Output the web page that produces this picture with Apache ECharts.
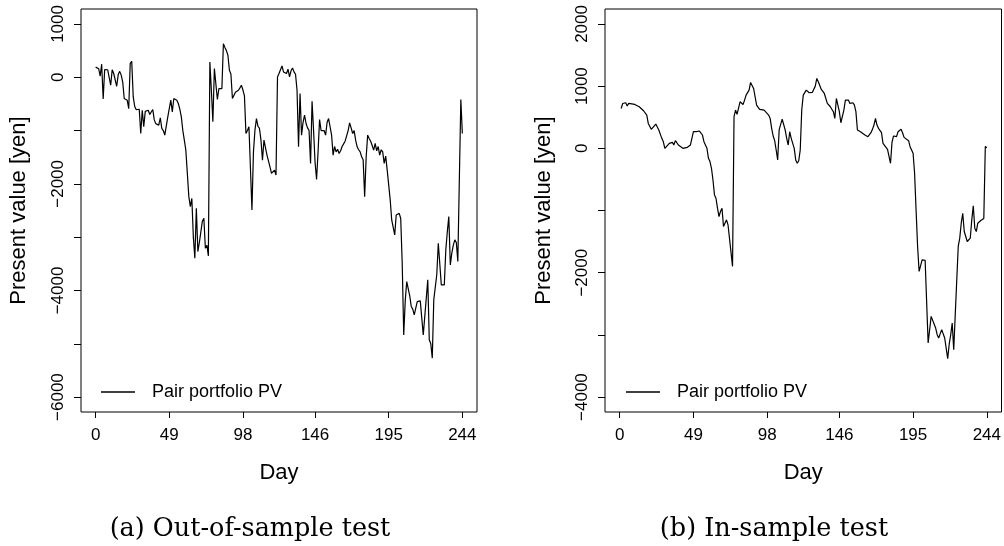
<!DOCTYPE html>
<html>
<head>
<meta charset="utf-8">
<script src="https://cdn.jsdelivr.net/npm/echarts@6/dist/echarts.min.js"></script>
<style>
  html, body { margin: 0; padding: 0; background: #fff; }
  #chart { width: 1004px; height: 546px; }
</style>
</head>
<body>
<div id="chart"></div>
<script>
// (a) out-of-sample test: day / present value
var daysA = [0, 1, 2, 3, 4, 5, 6, 7, 8, 9, 10, 11, 12, 13, 14, 15, 16, 17, 18, 19,
    20, 21, 22, 23, 24, 25, 26, 27, 28, 29, 30, 31, 32, 33, 34, 35, 36, 37, 38, 39,
    40, 41, 42, 43, 44, 45, 46, 47, 48, 49, 50, 51, 52, 53, 54, 55, 56, 57, 58, 59,
    60, 61, 62, 63, 64, 65, 66, 67, 68, 69, 70, 71, 72, 73, 74, 75, 76, 77, 78, 79,
    80, 81, 82, 83, 84, 85, 86, 87, 88, 89, 90, 91, 92, 93, 94, 95, 96, 97, 98, 99,
    100, 101, 102, 103, 104, 105, 106, 107, 108, 109, 110, 111, 112, 113, 114, 115, 116, 117, 118, 119,
    120, 121, 122, 123, 124, 125, 126, 127, 128, 129, 130, 131, 132, 133, 134, 135, 136, 137, 138, 139,
    140, 141, 142, 143, 144, 145, 146, 147, 148, 149, 150, 151, 152, 153, 154, 155, 156, 157, 158, 159,
    160, 161, 162, 163, 164, 165, 166, 167, 168, 169, 170, 171, 172, 173, 174, 175, 176, 177, 178, 179,
    180, 181, 182, 183, 184, 185, 186, 187, 188, 189, 190, 191, 192, 193, 194, 195, 196, 197, 198, 199,
    200, 201, 202, 203, 204, 205, 206, 207, 208, 209, 210, 211, 212, 213, 214, 215, 216, 217, 218, 219,
    220, 221, 222, 223, 224, 225, 226, 227, 228, 229, 230, 231, 232, 233, 234, 235, 236, 237, 238, 239,
    240, 241, 242, 243, 244];
var pvA = [190, 175, 160, 20, 245, -410, 145, 140, 140, 145, -150, 140, 70, 40, -170, 50, 110, 40, -90, -400,
    -420, -430, -590, 260, 300, -370, -550, -610, -630, -600, -1055, -620, -930, -640, -650, -620, -700, -712, -605, -800,
    -870, -855, -900, -760, -960, -1000, -1086, -1080, -743, -711, -430, -650, -400, -380, -430, -493, -600, -743, -1000, -1180,
    -1367, -1400, -2240, -2428, -2273, -3000, -3396, -2460, -3271, -3100, -2900, -2700, -2647, -3209, -3150, -3352, 287, -250, -836, 162,
    140, -418, -212, -212, -212, 630, 560, 500, 412, 131, 60, -400, -380, -280, -250, -245, -200, -150, -240, -350,
    -1055, -1000, -930, -900, -2491, -1400, -993, -774, -920, -961, -1180, -1555, -1180, -1180, -1460, -1430, -1680, -1804, -1830, -1742,
    -1836, 6, 69, 100, 212, 100, 70, 69, 150, 6, 120, 175, 100, 56, -243, -1305, -306, -1086, -850, -712,
    -868, -950, -1000, -1617, -450, -1000, -1600, -1917, -1400, -793, -1000, -990, -1000, -1086, -850, -774, -750, -1086, -1461, -1300,
    -1400, -1350, -1430, -1380, -1300, -1250, -1200, -1180, -1000, -855, -950, -1055, -1000, -1180, -1305, -1360, -1400, -1492, -1550, -2241,
    -1500, -1086, -1150, -1200, -1280, -1367, -1240, -1380, -1300, -1460, -1360, -1400, -1617, -1480, -1742, -1740, -2300, -2678, -2700, -2958,
    -2585, -2560, -2553, -2650, -3500, -4833, -4200, -3833, -3833, -4100, -4300, -4350, -4458, -4440, -4208, -4200, -4195, -4195, -4833, -4490,
    -4490, -3801, -4925, -5000, -5270, -4177, -4145, -3700, -3115, -3500, -3896, -3896, -3896, -3240, -2900, -2615, -3521, -3300, -3150, -3052,
    -3100, -3458, -3458, -418, -1055];

// (b) in-sample test
var daysB = [1, 2, 4, 5, 6, 10, 13, 16, 18, 19, 21, 22, 24, 25, 26, 28, 29, 30, 31, 33,
    35, 36, 37, 38, 39, 40, 42, 43, 45, 46, 47, 49, 50, 51, 52, 53, 55, 56, 58, 59,
    60, 61, 62, 63, 64, 65, 66, 67, 68, 69, 70, 71, 72, 75, 76, 77, 78, 80, 81, 82,
    83, 84, 86, 87, 88, 89, 90, 91, 93, 94, 96, 97, 99, 100, 101, 102, 103, 104, 105, 106,
    108, 110, 111, 112, 113, 114, 116, 117, 118, 119, 120, 121, 122, 124, 125, 126, 127, 128, 129, 130,
    131, 132, 133, 134, 135, 136, 138, 139, 140, 142, 143, 144, 146, 147, 149, 150, 151, 152, 153, 154,
    155, 156, 157, 158, 160, 161, 163, 165, 166, 167, 168, 169, 170, 171, 172, 174, 175, 176, 178, 179,
    180, 181, 182, 184, 185, 187, 188, 189, 190, 192, 193, 194, 195, 196, 197, 198, 199, 201, 202, 203,
    205, 207, 208, 210, 211, 212, 213, 214, 216, 218, 219, 220, 221, 222, 223, 225, 226, 227, 228, 229,
    231, 232, 233, 234, 235, 236, 237, 238, 239, 240, 241, 242, 243, 244];
var pvB = [640, 720, 733, 680, 722, 705, 668, 600, 535, 400, 305, 310, 390, 401, 294, 160, 107, 0, 26, 80,
    96, 53, 123, 90, 53, 37, 0, 26, 16, -11, 53, 267, 294, 267, 294, 278, 214, 107, 0, -161,
    -214, -321, -510, -749, -803, -963, -1097, -1016, -963, -1257, -1284, -1150, -1230, -1899, 508, 615, 545, 748, 775, 705,
    775, 856, 936, 1059, 1059, 963, 829, 695, 626, 626, 615, 588, 535, 481, 321, 198, 123, -27, -187, 300,
    470, 294, 160, 53, 267, 160, 0, -187, -241, -200, -27, 615, 856, 936, 946, 893, 882, 899, 899, 1000,
    1123, 1070, 1096, 946, 946, 882, 722, 733, 668, 588, 481, 802, 588, 411, 615, 775, 748, 775, 722, 748,
    733, 695, 588, 294, 267, 251, 214, 187, 214, 251, 305, 374, 481, 374, 321, 251, 80, 53, -16, -27,
    -241, 100, 198, 187, 267, 305, 251, 176, 198, 123, 27, 10, -80, -400, -1000, -1578, -1980, -1793, -1782, -1800,
    -3130, -2702, -2702, -2890, -2996, -3050, -3050, -2916, -3050, -3382, -3150, -3000, -2809, -3237, -3264, -1578, -1445, -1204, -1044, -1338,
    -1498, -1510, -1445, -1150, -926, -1284, -1338, -1204, -1180, -1162, -1140, -1130, 30, 10];

var dayTicks = [0, 49, 98, 146, 195, 244];
var yTicksA = [-6000, -5000, -4000, -3000, -2000, -1000, 0, 1000];
var yLabelsA = [-6000, -4000, -2000, 0, 1000];
var yTicksB = [-4000, -3000, -2000, -1000, 0, 1000, 2000];
var yLabelsB = [-4000, -2000, 0, 1000, 2000];

var seriesName = 'Pair portfolio PV';
var captions = ['(a) Out-of-sample test', '(b) In-sample test'];

function zip(xs, ys) {
    var out = [];
    for (var i = 0; i < xs.length; i++) {
        out.push([xs[i], ys[i]]);
    }
    return out;
}

function minusSign(v) {
    return String(v).replace('-', '\u2212');
}

var sans = 'Liberation Sans, Arial, sans-serif';

function makeX(gridIndex) {
    return {
        type: 'value',
        gridIndex: gridIndex,
        position: 'bottom',
        min: -9.76,
        max: 253.76,
        name: 'Day',
        nameLocation: 'middle',
        nameGap: 50,
        nameTextStyle: { fontFamily: sans, fontSize: 22, color: '#000' },
        axisLine: { show: false, onZero: false },
        splitLine: { show: false },
        axisTick: { show: true, length: 6, lineStyle: { color: '#000' }, customValues: dayTicks },
        axisLabel: { fontFamily: sans, fontSize: 17, color: '#000', margin: 15, customValues: dayTicks }
    };
}

function makeY(gridIndex, min, max, ticks, labels, gap) {
    return {
        type: 'value',
        gridIndex: gridIndex,
        position: 'left',
        min: min,
        max: max,
        name: 'Present value [yen]',
        nameLocation: 'middle',
        nameRotate: 90,
        nameGap: gap,
        nameTextStyle: { fontFamily: sans, fontSize: 22, color: '#000' },
        axisLine: { show: false, onZero: false },
        splitLine: { show: false },
        axisTick: { show: true, length: 7, lineStyle: { color: '#000' }, customValues: ticks },
        axisLabel: {
            fontFamily: sans, fontSize: 17, color: '#000', rotate: 90, margin: 14,
            customValues: labels,
            formatter: minusSign
        }
    };
}

var chart = echarts.init(document.getElementById('chart'), null, { renderer: 'canvas' });

var option = {
    backgroundColor: '#fff',
    animation: false,
    grid: [
        { left: 81, top: 9, width: 396, height: 403, show: true, borderColor: '#000', borderWidth: 1, containLabel: false },
        { left: 605, top: 9, width: 397, height: 403, show: true, borderColor: '#000', borderWidth: 1, containLabel: false }
    ],
    xAxis: [makeX(0), makeX(1)],
    yAxis: [
        makeY(0, -6280, 1280, yTicksA, yLabelsA, 51),
        makeY(1, -4240, 2240, yTicksB, yLabelsB, 50)
    ],
    legend: [
        {
            left: 96, top: 378, icon: 'rect', itemWidth: 34, itemHeight: 1.3,
            data: [seriesName], selectedMode: false,
            textStyle: { fontFamily: sans, fontSize: 18, color: '#000', padding: [0, 0, 0, 12] }
        },
        {
            left: 621, top: 378, icon: 'rect', itemWidth: 34, itemHeight: 1.3,
            data: [seriesName], selectedMode: false,
            textStyle: { fontFamily: sans, fontSize: 18, color: '#000', padding: [0, 0, 0, 12] }
        }
    ],
    title: [
        {
            text: captions[0], left: 245, top: 511, textAlign: 'center',
            textStyle: { fontFamily: 'DejaVu Serif', fontSize: 25.5, fontWeight: 'normal', color: '#000' }
        },
        {
            text: captions[1], left: 769, top: 511, textAlign: 'center',
            textStyle: { fontFamily: 'DejaVu Serif', fontSize: 25.5, fontWeight: 'normal', color: '#000' }
        }
    ],
    series: [
        {
            name: seriesName, type: 'line', xAxisIndex: 0, yAxisIndex: 0,
            data: zip(daysA, pvA), showSymbol: false, color: '#000',
            lineStyle: { color: '#000', width: 1.2 }
        },
        {
            name: seriesName, type: 'line', xAxisIndex: 1, yAxisIndex: 1,
            data: zip(daysB, pvB), showSymbol: false, color: '#000',
            lineStyle: { color: '#000', width: 1.2 }
        }
    ]
};

chart.setOption(option);
</script>
</body>
</html>
